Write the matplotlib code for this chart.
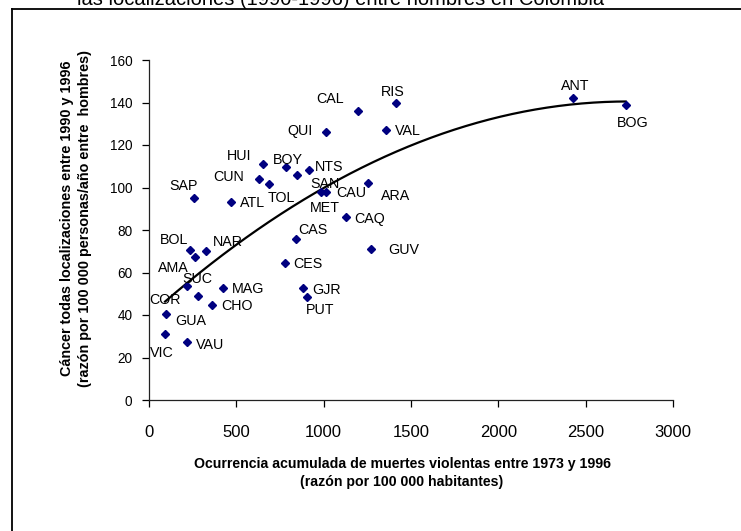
import numpy as np
import matplotlib
matplotlib.use("Agg")
import matplotlib.pyplot as plt
from matplotlib.lines import Line2D

plt.rcParams['font.family'] = ['Liberation Sans', 'DejaVu Sans']

# ---- data ----
names = ['ANT', 'BOG', 'RIS', 'CAL', 'QUI', 'VAL', 'ARA', 'CAQ', 'HUI', 'BOY',
         'MET', 'NTS', 'CUN', 'TOL', 'SAN', 'CAU', 'SAP', 'ATL', 'CAS', 'CES',
         'GJR', 'PUT', 'GUV', 'BOL', 'NAR', 'AMA', 'SUC', 'COR', 'MAG', 'CHO',
         'GUA', 'VIC', 'VAU']
violence = [2429, 2729, 1415, 1194, 1015, 1355, 1254, 1127, 650, 784,
            847, 917, 632, 688, 986, 1015, 260, 470, 839, 776,
            883, 904, 1269, 235, 325, 264, 218, 281, 423, 363,
            97, 92, 218]
cancer = [142.1, 138.7, 139.9, 136.0, 126.3, 127.1, 102.0, 85.9, 111.1, 109.5,
          105.7, 108.2, 104.1, 101.6, 98.0, 98.0, 94.9, 93.2, 75.6, 64.5,
          52.7, 48.6, 71.1, 70.6, 70.0, 67.3, 53.6, 49.1, 52.8, 44.6,
          40.3, 31.1, 27.4]
xticks = [0, 500, 1000, 1500, 2000, 2500, 3000]
yticks = [0, 20, 40, 60, 80, 100, 120, 140, 160]

title_line = 'las localizaciones (1990-1996) entre hombres en Colombia'
xlabel = 'Ocurrencia acumulada de muertes violentas entre 1973 y 1996\n(razón por 100 000 habitantes)'
ylabel = 'Cáncer todas localizaciones entre 1990 y 1996\n(razón por 100 000 personas/año entre  hombres)'

# label placement (pixel offsets: dx right, dy down, horizontal alignment)
label_pos = {
    'ANT': (2, -12, 'center'), 'BOG': (7, 18, 'center'), 'RIS': (-3, -11, 'center'),
    'CAL': (-27, -12, 'center'), 'QUI': (-14, -1, 'right'), 'VAL': (9, 1, 'left'),
    'ARA': (28, 13, 'center'), 'CAQ': (8, 2, 'left'), 'HUI': (-23, -8, 'center'),
    'BOY': (2, -7, 'center'), 'MET': (28, 33, 'center'), 'NTS': (6, -3, 'left'),
    'CUN': (-31, -2, 'center'), 'TOL': (12, 14, 'center'), 'SAN': (4, -8, 'center'),
    'CAU': (10, 1, 'left'), 'SAP': (-11, -12, 'center'), 'ATL': (9, 1, 'left'),
    'CAS': (3, -9, 'left'), 'CES': (9, 1, 'left'), 'GJR': (9, 2, 'left'),
    'PUT': (13, 13, 'center'), 'GUV': (18, 1, 'left'), 'BOL': (-16, -10, 'center'),
    'NAR': (7, -9, 'left'), 'AMA': (-22, 11, 'center'), 'SUC': (10, -7, 'center'),
    'COR': (-33, 4, 'center'), 'MAG': (9, 1, 'left'), 'CHO': (9, 1, 'left'),
    'GUA': (9, 7, 'left'), 'VIC': (-3, 19, 'center'), 'VAU': (9, 3, 'left'),
}

W, H = 741, 531
fig = plt.figure(figsize=(W / 100, H / 100), dpi=100)
fig.patch.set_facecolor('white')

ax = fig.add_axes([149 / W, 1 - 400 / H, (673 - 149) / W, (400 - 60) / H])
ax.set_xlim(0, 3000)
ax.set_ylim(0, 160)
ax.set_facecolor('none')
for s in ['top', 'right']:
    ax.spines[s].set_visible(False)
for s in ['left', 'bottom']:
    ax.spines[s].set_color('#222222')
    ax.spines[s].set_linewidth(0.9)
ax.set_xticks(xticks)
ax.set_yticks(yticks)
ax.tick_params(axis='x', direction='out', length=5, width=0.9, pad=13, labelsize=12)
ax.tick_params(axis='y', direction='out', length=5, width=0.9, pad=7, labelsize=9.8)

# trend line (2nd order polynomial, as in the spreadsheet)
xv = np.array(violence, float)
yv = np.array(cancer, float)
coef = np.polyfit(xv, yv, 2)
xs = np.linspace(xv.min(), xv.max(), 200)
ax.plot(xs, np.polyval(coef, xs), color='black', lw=1.6, zorder=2)

ax.plot(violence, cancer, linestyle='none', marker='D', markersize=3.8,
        color='#000080', zorder=3)

for n, x, y in zip(names, violence, cancer):
    dx, dy, ha = label_pos[n]
    ax.annotate(n, (x, y), xytext=(dx, -dy), textcoords='offset pixels',
                ha=ha, va='center', fontsize=10.3, color='black', zorder=4)

fig.text(402 / W, 1 - 473 / H, xlabel, ha='center', va='center',
         fontsize=10.2, fontweight='bold', linespacing=1.35)
fig.text(76 / W, 1 - 218 / H, ylabel, ha='center', va='center', rotation=90,
         fontsize=10.4, fontweight='bold', linespacing=1.3)

fig.text(341 / W, 1 - 5 / H, title_line, ha='center', va='baseline', fontsize=14.5)

# chart frame (left and top edges visible)
fig.add_artist(Line2D([12 / W, 12 / W], [1 - 9 / H, -0.01], transform=fig.transFigure,
                      color='black', lw=1.3))
fig.add_artist(Line2D([12 / W, 1.01], [1 - 9 / H, 1 - 9 / H], transform=fig.transFigure,
                      color='black', lw=1.3))

fig.savefig('out.png', dpi=100)
